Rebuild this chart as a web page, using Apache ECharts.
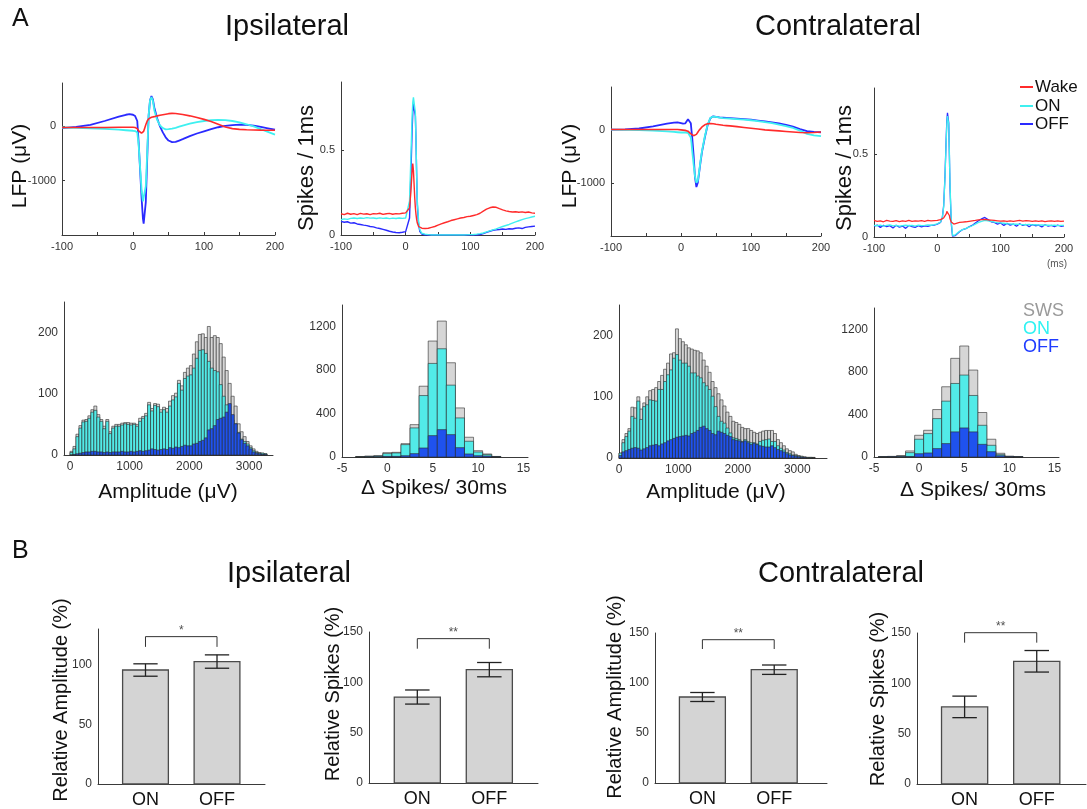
<!DOCTYPE html>
<html>
<head>
<meta charset="utf-8">
<script src="https://cdn.jsdelivr.net/npm/echarts@6/dist/echarts.min.js"></script>
<style>
  html, body { margin: 0; padding: 0; background: #fff; }
  #chart { width: 1087px; height: 809px; }
</style>
</head>
<body>
<div id="chart"></div>
<script>
// ---------- Panel A, row 1: averaged LFP (µV) around the event, time in ms ----------
const lfpTime = [-100,-80,-60,-40,-20,-10,-5,0,3,6,8,10,12,14,15,16,18,20,22,24,26,28,30,34,38,42,46,50,55,60,65,70,80,90,100,110,120,130,140,150,160,170,180,190,200];

const ipsiLfpOff  = [-30,-10,30,100,180,215,225,215,190,100,-300,-800,-1300,-1700,-1790,-1780,-1400,-600,200,480,560,500,350,150,0,-110,-200,-260,-290,-285,-260,-235,-180,-130,-90,-50,-15,10,25,35,30,15,-10,-35,-60];
const ipsiLfpOn   = [-20,-25,-35,-45,-60,-70,-75,-80,-85,-110,-350,-750,-1150,-1380,-1400,-1380,-1100,-500,200,480,540,470,300,120,20,-30,-55,-50,-40,-25,-5,15,50,80,100,115,120,115,100,75,40,0,-50,-100,-150];
const ipsiLfpWake = [-20,-20,-20,-20,-15,-15,-15,-15,-20,-40,-80,-110,-125,-110,-90,-50,30,100,140,160,170,175,180,195,205,215,225,235,240,238,230,220,195,165,130,90,40,-10,-40,-55,-62,-65,-68,-70,-70];

const contraLfpOff  = [0,5,20,60,110,130,135,120,110,115,150,195,210,120,-20,-150,-480,-900,-1080,-1000,-800,-600,-420,-150,80,215,250,240,230,225,220,215,205,195,185,170,155,135,115,90,55,10,-30,-45,-50];
const contraLfpOn   = [0,-5,-10,-20,-35,-45,-50,-55,-55,-55,-55,-60,-70,-150,-250,-400,-650,-880,-1000,-960,-780,-580,-400,-130,90,220,245,240,225,215,210,205,195,185,175,160,140,120,95,65,30,-20,-80,-110,-125];
const contraLfpWake = [0,0,0,0,0,0,0,-5,-10,-15,-20,-30,-50,-80,-95,-105,-115,-110,-90,-50,-10,20,50,90,110,115,110,100,90,80,75,70,55,40,25,10,-5,-15,-25,-35,-45,-55,-60,-55,-45];

// ---------- Panel A, row 1: spikes per 1 ms bin ----------
const ipsiSpkTime = [-100,-95,-90,-85,-80,-75,-70,-65,-60,-55,-50,-45,-40,-35,-30,-25,-20,-15,-10,-5,0,3,6,8,10,11,12,13,14,15,16,17,18,20,22,25,30,35,40,45,50,55,60,65,70,75,80,85,90,95,100,105,110,115,120,125,130,135,140,145,150,155,160,165,170,175,180,185,190,195,200];
const ipsiSpkWake = [0.125,0.12,0.128,0.122,0.126,0.12,0.127,0.123,0.125,0.12,0.126,0.124,0.128,0.121,0.125,0.127,0.122,0.126,0.124,0.128,0.13,
  0.14,0.16,0.25,0.38,0.42,0.38,0.3,0.22,0.16,0.12,0.09,0.07,0.05,0.045,0.04,
  0.038,0.04,0.045,0.05,0.058,0.065,0.072,0.078,0.085,0.09,0.095,0.1,0.103,0.108,0.11,0.115,0.12,0.128,0.14,0.152,0.16,0.165,0.163,0.155,0.148,0.142,0.138,0.135,0.137,0.134,0.136,0.132,0.135,0.13,0.128];
const ipsiSpkOn = [0.09,0.095,0.092,0.098,0.1,0.097,0.1,0.098,0.102,0.099,0.1,0.097,0.101,0.098,0.1,0.096,0.099,0.097,0.1,0.098,0.1,
  0.11,0.2,0.45,0.7,0.78,0.81,0.82,0.8,0.72,0.55,0.35,0.2,0.08,0.03,0.01,
  0.005,0.002,0,0,0,0,0,0,0,0,0,0,0,0.001,0.002,0.003,0.005,0.008,0.012,0.018,0.024,0.03,0.036,0.043,0.05,0.056,0.062,0.07,0.077,0.084,0.09,0.096,0.101,0.106,0.11];
const ipsiSpkOff = [0.08,0.075,0.078,0.07,0.072,0.065,0.062,0.058,0.055,0.05,0.048,0.042,0.038,0.033,0.028,0.022,0.018,0.015,0.013,0.016,0.02,
  0.03,0.1,0.35,0.62,0.72,0.77,0.78,0.77,0.7,0.55,0.35,0.18,0.06,0.02,0.005,
  0,0,0,0,0,0,0,0,0,0,0,0,0,0,0,0,0,0.003,0.008,0.015,0.022,0.028,0.03,0.032,0.035,0.033,0.037,0.035,0.04,0.042,0.038,0.045,0.048,0.05,0.052];

const contraSpkTime = [-100,-95,-90,-85,-80,-75,-70,-65,-60,-55,-50,-45,-40,-35,-30,-25,-20,-15,-10,-5,0,5,8,10,12,14,15,16,17,18,19,20,22,24,26,28,30,35,40,45,50,55,60,65,70,75,80,85,90,95,100,105,110,115,120,125,130,135,140,145,150,155,160,165,170,175,180,185,190,195,200];
const contraSpkWake = [0.1,0.095,0.098,0.092,0.1,0.096,0.094,0.099,0.093,0.097,0.095,0.1,0.094,0.098,0.096,0.099,0.095,0.1,0.097,0.099,0.1,0.105,
  0.11,0.115,0.12,0.14,0.155,0.16,0.16,0.15,0.13,0.11,0.09,0.08,0.078,0.08,0.083,
  0.088,0.09,0.092,0.095,0.098,0.1,0.104,0.105,0.106,0.104,0.102,0.1,0.098,0.096,0.097,0.095,0.098,0.094,0.097,0.1,0.096,0.099,0.097,0.094,0.098,0.095,0.097,0.093,0.096,0.098,0.095,0.097,0.094,0.096];
const contraSpkOn = [0.07,0.068,0.072,0.066,0.07,0.073,0.067,0.07,0.065,0.069,0.071,0.068,0.07,0.066,0.072,0.069,0.07,0.073,0.071,0.075,0.08,0.09,
  0.12,0.18,0.35,0.58,0.68,0.73,0.74,0.68,0.52,0.32,0.1,0.01,0.005,0.012,0.02,
  0.035,0.045,0.052,0.06,0.068,0.078,0.088,0.095,0.1,0.098,0.094,0.09,0.087,0.085,0.083,0.08,0.079,0.077,0.078,0.076,0.075,0.074,0.076,0.073,0.074,0.072,0.073,0.071,0.072,0.07,0.071,0.069,0.07,0.07];
const contraSpkOff = [0.065,0.072,0.058,0.07,0.062,0.068,0.055,0.071,0.06,0.066,0.052,0.07,0.063,0.058,0.069,0.061,0.067,0.064,0.07,0.072,0.078,0.088,
  0.12,0.19,0.36,0.6,0.7,0.75,0.76,0.69,0.5,0.3,0.08,0.005,0,0.008,0.018,
  0.032,0.045,0.05,0.062,0.07,0.085,0.098,0.11,0.118,0.105,0.092,0.088,0.078,0.085,0.07,0.082,0.072,0.078,0.065,0.08,0.07,0.076,0.062,0.075,0.068,0.072,0.06,0.074,0.066,0.07,0.063,0.072,0.065,0.068];

// ---------- Panel A, row 2: amplitude histograms (bin starts, 50 µV wide) ----------
const ampBinStart = [0,50,100,150,200,250,300,350,400,450,500,550,600,650,700,750,800,850,900,950,1000,1050,1100,1150,1200,1250,1300,1350,1400,1450,1500,1550,1600,1650,1700,1750,1800,1850,1900,1950,2000,2050,2100,2150,2200,2250,2300,2350,2400,2450,2500,2550,2600,2650,2700,2750,2800,2850,2900,2950,3000,3050,3100,3150,3200,3250];

const ipsiAmpSWS = [6,14,34,48,57,58,64,74,80,66,58,47,58,38,47,50,50,52,53,53,52,52,50,60,63,68,86,76,84,83,74,78,76,88,97,101,122,113,135,142,146,165,185,197,198,192,210,192,195,192,182,160,138,117,96,80,51,38,30,22,15,10,6,4,3,2];
const ipsiAmpON  = [4,10,30,44,54,55,60,70,73,62,55,43,55,35,44,47,47,49,51,50,49,50,47,55,60,64,82,72,81,79,70,74,70,80,90,95,117,106,125,129,131,142,158,171,172,166,153,142,138,136,115,96,82,66,57,51,37,26,22,18,12,7,4,3,3,2];
const ipsiAmpOFF = [0,1,2,3,4,5,5,6,6,5,5,4,5,4,5,5,5,6,5,5,6,5,6,7,6,7,8,10,9,8,9,10,9,12,11,13,12,14,16,15,15,18,19,22,24,28,41,43,48,58,60,62,70,84,66,51,36,25,19,15,10,5,3,2,1,1];

const contraAmpSWS = [8,30,40,48,83,82,100,80,90,100,110,112,115,125,135,145,155,170,172,211,195,190,185,180,178,176,175,172,160,150,140,125,115,105,95,85,75,68,60,58,55,50,48,48,45,42,40,42,44,45,45,45,40,30,25,20,15,12,10,6,4,3,2,1,1,1];
const contraAmpON  = [8,25,35,44,68,65,93,63,84,87,95,94,93,112,112,125,136,144,163,169,160,155,155,150,139,139,134,131,123,118,112,101,84,68,60,57,49,41,33,32,30,27,30,27,25,25,23,27,29,30,31,27,27,20,16,13,9,7,5,4,3,2,1,1,1,0];
const contraAmpOFF = [4,10,12,14,16,17,16,13,15,17,20,21,22,20,23,25,28,30,32,34,35,36,37,36,40,42,45,50,52,48,45,40,38,44,42,40,37,35,30,29,28,26,28,25,22,24,22,20,19,18,18,20,17,14,12,10,7,5,4,3,2,1,1,0,0,0];

// ---------- Panel A, row 2: Δ spikes / 30 ms histograms (bin centres, width 1) ----------
const ipsiSpkBins = [-3,-2,-1,0,1,2,3,4,5,6,7,8,9,10,11,12];
const ipsiSpkSWS  = [3,8,12,40,43,123,298,652,1068,1252,868,452,182,58,28,5];
const ipsiSpkON   = [2,6,10,31,37,114,268,566,862,997,662,360,145,46,22,3];
const ipsiSpkOFF  = [0,1,2,6,6,12,31,83,197,252,206,86,28,12,9,1];

const contraSpkBins = [-4,-3,-2,-1,0,1,2,3,4,5,6,7,8,9,10,11];
const contraSpkSWS  = [4,6,13,57,204,251,446,660,927,1043,817,418,167,35,8,4];
const contraSpkON   = [2,4,9,41,167,220,361,525,691,770,578,298,110,22,5,2];
const contraSpkOFF  = [1,2,3,5,31,38,79,126,236,273,236,119,50,12,3,1];

// ---------- Panel B: relative amplitude / spikes (%), mean ± error ----------
const groupPos = [1, 2];
const groupNames = ['ON', 'OFF'];
const ipsiRelAmp = [95.6, 102.7],   ipsiRelAmpErr = [5.2, 5.6];
const ipsiRelSpk = [85.4, 112.6],   ipsiRelSpkErr = [7.0, 7.1];
const contraRelAmp = [86.0, 113.3], contraRelAmpErr = [4.5, 4.7];
const contraRelSpk = [76.6, 121.9], contraRelSpkErr = [10.7, 10.7];
// significance brackets: [leg bottom, bar top, marker]
const ipsiAmpSig = [115, 123.6, '*'];
const ipsiSpkSig = [133.4, 143.4, '**'];
const contraAmpSig = [134, 143.3, '**'];
const contraSpkSig = [140.4, 150.3, '**'];

// ---------- styling ----------
const FONT = '"Liberation Sans", Arial, sans-serif';
const AX = '#3a3a3a';
const C_WAKE = '#ff2b2b', C_ON = '#3ff0f0', C_OFF = '#2a2aff';
const H_SWS = '#d6d6d6', H_ON = '#52ebe8', H_OFF = '#1f52ee';

const grids = [
  { left: 62,  top: 83,  width: 213, height: 152 },
  { left: 341, top: 82,  width: 194, height: 153 },
  { left: 611, top: 87,  width: 210, height: 149 },
  { left: 874, top: 88,  width: 190, height: 149 },
  { left: 64,  top: 302, width: 209, height: 153 },
  { left: 342, top: 305, width: 186, height: 152 },
  { left: 619, top: 305, width: 208, height: 153 },
  { left: 874, top: 308, width: 185, height: 149 },
  { left: 98,  top: 629, width: 167, height: 158 },
  { left: 369, top: 632, width: 169, height: 151 },
  { left: 655, top: 633, width: 172, height: 150 },
  { left: 917, top: 633, width: 169, height: 151 }
];

// plain numbers on the ticks, no digit grouping
const plain = v => String(v);

function axis(gi, min, max, labels, ticks, labelExtra) {
  const a = {
    type: 'value', gridIndex: gi, min: min, max: max,
    axisLine: { show: true, onZero: false, lineStyle: { color: AX, width: 1 } },
    axisTick: { show: false },
    axisLabel: Object.assign({ customValues: labels, fontSize: 11, color: '#333', fontFamily: FONT, margin: 6, formatter: plain }, labelExtra || {}),
    splitLine: { show: false }
  };
  if (ticks) a.axisTick = { show: true, inside: true, length: 3, customValues: ticks, lineStyle: { color: AX } };
  return a;
}

const timeLabels = [-100, 0, 100, 200];
const timeTicks = [-100, -50, 0, 50, 100, 150, 200];
const barLabel = { fontSize: 18, color: '#111', margin: 7, formatter: v => groupNames[groupPos.indexOf(v)] };

const xAxes = [
  axis(0, -100, 200, timeLabels, timeTicks),
  axis(1, -100, 200, timeLabels, timeTicks),
  axis(2, -100, 200, timeLabels, timeTicks),
  axis(3, -100, 200, timeLabels, timeTicks),
  axis(4, -100, 3400, [0, 1000, 2000, 3000], null, { fontSize: 12 }),
  axis(5, -5, 15.5, [-5, 0, 5, 10, 15], null, { fontSize: 12 }),
  axis(6, 0, 3500, [0, 1000, 2000, 3000], null, { fontSize: 12 }),
  axis(7, -5, 15.5, [-5, 0, 5, 10, 15], null, { fontSize: 12 }),
  axis(8, 0.336, 2.671, groupPos, groupPos, barLabel),
  axis(9, 0.329, 2.676, groupPos, groupPos, barLabel),
  axis(10, 0.34, 2.735, groupPos, groupPos, barLabel),
  axis(11, 0.34, 2.683, groupPos, groupPos, barLabel)
];
const yAxes = [
  axis(0, -2000, 800, [-1000, 0], [-1000, 0]),
  axis(1, 0, 0.9, [0, 0.5], [0, 0.5]),
  axis(2, -2000, 800, [-1000, 0], [-1000, 0]),
  axis(3, 0, 0.9, [0, 0.5], [0, 0.5]),
  axis(4, 0, 250, [0, 100, 200], null, { fontSize: 12 }),
  axis(5, 0, 1400, [0, 400, 800, 1200], null, { fontSize: 12 }),
  axis(6, 0, 250, [0, 100, 200], null, { fontSize: 12 }),
  axis(7, 0, 1400, [0, 400, 800, 1200], null, { fontSize: 12 }),
  axis(8, 0, 130, [0, 50, 100], null, { fontSize: 12 }),
  axis(9, 0, 150, [0, 50, 100, 150], null, { fontSize: 12 }),
  axis(10, 0, 150, [0, 50, 100, 150], null, { fontSize: 12 }),
  axis(11, 0, 150, [0, 50, 100, 150], null, { fontSize: 12 })
];

function line(gi, time, vals, color, width) {
  return {
    type: 'line', xAxisIndex: gi, yAxisIndex: gi,
    data: time.map((t, i) => [t, vals[i]]),
    symbol: 'none', showSymbol: false, clip: true, silent: true,
    lineStyle: { color: color, width: width }, itemStyle: { color: color }
  };
}

// histogram bars drawn from bin edges through the axis scales
function hist(gi, bins, counts, binWidth, centred, color) {
  return {
    type: 'custom', xAxisIndex: gi, yAxisIndex: gi, silent: true,
    data: bins.map((b, i) => [b, counts[i]]),
    renderItem: function (params, api) {
      const x0 = api.value(0) - (centred ? binWidth / 2 : 0);
      const a = api.coord([x0, api.value(1)]);
      const b = api.coord([x0 + binWidth, 0]);
      return { type: 'rect', shape: { x: a[0], y: a[1], width: b[0] - a[0], height: b[1] - a[1] },
               style: { fill: color, stroke: '#2b2b2b', lineWidth: 0.6 } };
    }
  };
}

function bars(gi, means) {
  return {
    type: 'custom', xAxisIndex: gi, yAxisIndex: gi, silent: true,
    data: groupPos.map((p, i) => [p, means[i]]),
    renderItem: function (params, api) {
      const x = api.value(0);
      const a = api.coord([x - 0.32, api.value(1)]);
      const b = api.coord([x + 0.32, 0]);
      return { type: 'rect', shape: { x: a[0], y: a[1], width: b[0] - a[0], height: b[1] - a[1] },
               style: { fill: '#d4d4d4', stroke: '#4a4a4a', lineWidth: 1.3 } };
    }
  };
}

function errorBars(gi, means, errs) {
  return {
    type: 'custom', xAxisIndex: gi, yAxisIndex: gi, silent: true, z: 5,
    data: groupPos.map((p, i) => [p, means[i] - errs[i], means[i] + errs[i]]),
    renderItem: function (params, api) {
      const x = api.value(0);
      const lo = api.coord([x, api.value(1)]), hi = api.coord([x, api.value(2)]);
      const lL = api.coord([x - 0.17, api.value(1)]), lR = api.coord([x + 0.17, api.value(1)]);
      const hL = api.coord([x - 0.17, api.value(2)]), hR = api.coord([x + 0.17, api.value(2)]);
      const st = { stroke: '#222', lineWidth: 1.3 };
      return { type: 'group', children: [
        { type: 'line', shape: { x1: lo[0], y1: lo[1], x2: hi[0], y2: hi[1] }, style: st },
        { type: 'line', shape: { x1: lL[0], y1: lL[1], x2: lR[0], y2: lR[1] }, style: st },
        { type: 'line', shape: { x1: hL[0], y1: hL[1], x2: hR[0], y2: hR[1] }, style: st }
      ] };
    }
  };
}

function bracket(gi, sig) {
  return [
    { type: 'line', xAxisIndex: gi, yAxisIndex: gi, silent: true, clip: false, symbol: 'none',
      data: [[1, sig[0]], [1, sig[1]], [2, sig[1]], [2, sig[0]]],
      lineStyle: { color: '#333', width: 1 } },
    { type: 'scatter', xAxisIndex: gi, yAxisIndex: gi, silent: true, clip: false, symbolSize: 0,
      data: [[1.5, sig[1]]],
      label: { show: true, position: 'top', distance: 0, formatter: sig[2], fontSize: 12, color: '#222', fontFamily: FONT } }
  ];
}

const series = [
  line(0, lfpTime, ipsiLfpOff, C_OFF, 1.8), line(0, lfpTime, ipsiLfpOn, C_ON, 1.8), line(0, lfpTime, ipsiLfpWake, C_WAKE, 1.6),
  line(1, ipsiSpkTime, ipsiSpkOff, C_OFF, 1.4), line(1, ipsiSpkTime, ipsiSpkOn, C_ON, 1.4), line(1, ipsiSpkTime, ipsiSpkWake, C_WAKE, 1.4),
  line(2, lfpTime, contraLfpOff, C_OFF, 1.8), line(2, lfpTime, contraLfpOn, C_ON, 1.8), line(2, lfpTime, contraLfpWake, C_WAKE, 1.6),
  line(3, contraSpkTime, contraSpkOff, C_OFF, 1.3), line(3, contraSpkTime, contraSpkOn, C_ON, 1.3), line(3, contraSpkTime, contraSpkWake, C_WAKE, 1.3),
  hist(4, ampBinStart, ipsiAmpSWS, 50, false, H_SWS), hist(4, ampBinStart, ipsiAmpON, 50, false, H_ON), hist(4, ampBinStart, ipsiAmpOFF, 50, false, H_OFF),
  hist(5, ipsiSpkBins, ipsiSpkSWS, 1, true, H_SWS), hist(5, ipsiSpkBins, ipsiSpkON, 1, true, H_ON), hist(5, ipsiSpkBins, ipsiSpkOFF, 1, true, H_OFF),
  hist(6, ampBinStart, contraAmpSWS, 50, false, H_SWS), hist(6, ampBinStart, contraAmpON, 50, false, H_ON), hist(6, ampBinStart, contraAmpOFF, 50, false, H_OFF),
  hist(7, contraSpkBins, contraSpkSWS, 1, true, H_SWS), hist(7, contraSpkBins, contraSpkON, 1, true, H_ON), hist(7, contraSpkBins, contraSpkOFF, 1, true, H_OFF),
  bars(8, ipsiRelAmp), errorBars(8, ipsiRelAmp, ipsiRelAmpErr), ...bracket(8, ipsiAmpSig),
  bars(9, ipsiRelSpk), errorBars(9, ipsiRelSpk, ipsiRelSpkErr), ...bracket(9, ipsiSpkSig),
  bars(10, contraRelAmp), errorBars(10, contraRelAmp, contraRelAmpErr), ...bracket(10, contraAmpSig),
  bars(11, contraRelSpk), errorBars(11, contraRelSpk, contraRelSpkErr), ...bracket(11, contraSpkSig)
];

function txt(x, y, text, size, opts) {
  opts = opts || {};
  return { type: 'text', x: x, y: y, rotation: opts.rot || 0, silent: true,
    style: { text: text, fontSize: size, fontFamily: FONT, fill: opts.fill || '#111',
             align: opts.align || 'center', verticalAlign: 'middle' } };
}
const R = Math.PI / 2;

const graphics = [
  txt(12, 19, 'A', 25, { align: 'left' }),
  txt(287, 27, 'Ipsilateral', 29),
  txt(838, 27, 'Contralateral', 29),
  txt(12, 551, 'B', 25, { align: 'left' }),
  txt(289, 574, 'Ipsilateral', 29),
  txt(841, 574, 'Contralateral', 29),

  txt(20, 166, 'LFP (\u03bcV)', 21, { rot: R }),
  txt(307, 168, 'Spikes / 1ms', 22, { rot: R }),
  txt(570, 166, 'LFP (\u03bcV)', 21, { rot: R }),
  txt(845, 168, 'Spikes / 1ms', 22, { rot: R }),
  txt(1057, 264, '(ms)', 10, { fill: '#555' }),

  txt(168, 492, 'Amplitude (\u03bcV)', 21),
  txt(434, 488, '\u0394 Spikes/ 30ms', 21),
  txt(716, 492, 'Amplitude (\u03bcV)', 21),
  txt(973, 490, '\u0394 Spikes/ 30ms', 21),

  txt(61, 700, 'Relative Amplitude (%)', 20, { rot: R }),
  txt(333, 694, 'Relative Spikes (%)', 20, { rot: R }),
  txt(615, 697, 'Relative Amplitude (%)', 20, { rot: R }),
  txt(878, 699, 'Relative Spikes (%)', 20, { rot: R }),

  { type: 'line', silent: true, shape: { x1: 1020, y1: 87, x2: 1033, y2: 87 }, style: { stroke: C_WAKE, lineWidth: 2 } },
  { type: 'line', silent: true, shape: { x1: 1020, y1: 106, x2: 1033, y2: 106 }, style: { stroke: C_ON, lineWidth: 2 } },
  { type: 'line', silent: true, shape: { x1: 1020, y1: 124, x2: 1033, y2: 124 }, style: { stroke: C_OFF, lineWidth: 2 } },
  txt(1035, 87, 'Wake', 17, { align: 'left' }),
  txt(1035, 106, 'ON', 17, { align: 'left' }),
  txt(1035, 124, 'OFF', 17, { align: 'left' }),

  txt(1023, 311, 'SWS', 18, { align: 'left', fill: '#9a9a9a' }),
  txt(1023, 329, 'ON', 18, { align: 'left', fill: '#2ff2f2' }),
  txt(1023, 347, 'OFF', 18, { align: 'left', fill: '#1f3cff' })
];

const chart = echarts.init(document.getElementById('chart'), null, { renderer: 'canvas' });
chart.setOption({
  animation: false,
  backgroundColor: '#ffffff',
  grid: grids,
  xAxis: xAxes,
  yAxis: yAxes,
  series: series,
  graphic: graphics
});
</script>
</body>
</html>
